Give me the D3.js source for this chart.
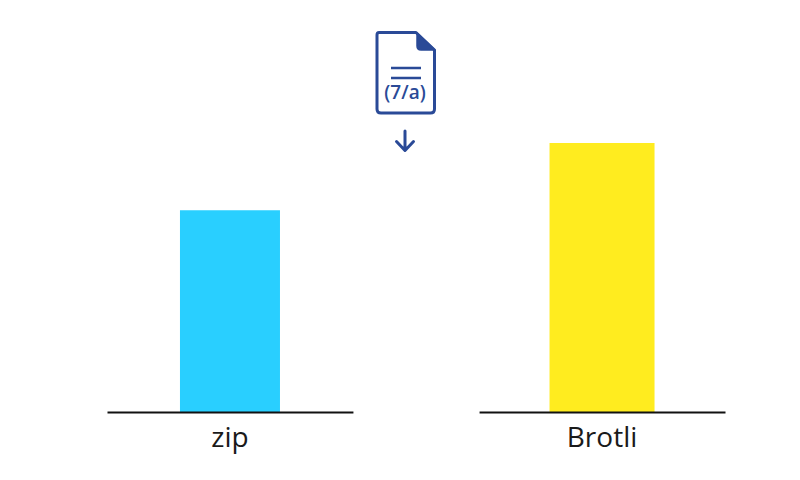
<!DOCTYPE html>
<html>
<head>
<meta charset="utf-8">
<script src="https://cdn.jsdelivr.net/npm/d3@7"></script>
<style>
  html, body { margin: 0; padding: 0; background: #fff; }
  svg { display: block; }
</style>
</head>
<body>
<div id="chart"></div>
<script>
// values, no scale is printed so they are relative
var categories = ["zip", "Brotli"];
var sizes = [75, 100];
var iconLabel = "(7/a)";

var width = 800, height = 480;
var baseline = 412, barTop = 143;

var svg = d3.select("#chart").append("svg")
  .attr("width", width)
  .attr("height", height);

var x = d3.scaleBand()
  .domain(categories)
  .range([107, 725])
  .paddingInner(0.339);

var y = d3.scaleLinear()
  .domain([0, 100])
  .range([baseline, barTop]);

var color = d3.scaleOrdinal()
  .domain(categories)
  .range(["#29cfff", "#ffec1f"]);

// the two bars are not quite the same width in the original
var barWidth = d3.scaleOrdinal()
  .domain(categories)
  .range([100, 105]);

svg.selectAll("rect.bar")
  .data(categories)
  .enter()
  .append("rect")
  .attr("class", "bar")
  .attr("x", function(d) { return x(d) + x.bandwidth() / 2 - barWidth(d) / 2; })
  .attr("y", function(d, i) { return y(sizes[i]); })
  .attr("width", function(d) { return barWidth(d); })
  .attr("height", function(d, i) { return y(0) - y(sizes[i]); })
  .attr("fill", function(d) { return color(d); });

// each bar sits on its own baseline
categories.forEach(function(c) {
  var axis = d3.axisBottom(d3.scaleBand().domain([c]).range([x(c), x(c) + x.bandwidth()]))
    .tickSize(0)
    .tickPadding(15);

  var g = svg.append("g")
    .attr("transform", "translate(0," + baseline + ")")
    .call(axis);

  g.select(".domain")
    .attr("stroke", "#111")
    .attr("stroke-width", 2);

  g.selectAll("text")
    .attr("font-family", "Open Sans")
    .attr("font-size", 28)
    .attr("fill", "#1a1a1a");
});

// file icon at the top
var icon = svg.append("g")
  .attr("fill", "none")
  .attr("stroke", "#2a4a97")
  .attr("stroke-linecap", "round")
  .attr("stroke-linejoin", "round");

icon.append("path")
  .attr("stroke-width", 3)
  .attr("d", "M379 32.5 H416 L434.5 50 V109 Q434.5 113 430.5 113 H381 Q377 113 377 109 V35 Q377 32.5 379 32.5 Z");

icon.append("path")
  .attr("fill", "#2a4a97")
  .attr("stroke-width", 1.5)
  .attr("d", "M417 33 L435 50 H421 Q417 50 417 46 Z");

icon.append("path")
  .attr("stroke-width", 2.4)
  .attr("stroke-linecap", "butt")
  .attr("d", "M391 68 H421 M391 78 H421");

svg.append("text")
  .attr("x", 405)
  .attr("y", 99)
  .attr("text-anchor", "middle")
  .attr("font-family", "Open Sans")
  .attr("font-weight", 600)
  .attr("font-size", 19)
  .attr("fill", "#2a4a97")
  .text(iconLabel);

icon.append("path")
  .attr("stroke-width", 3)
  .attr("d", "M405 131 V150 M396.5 141.5 L405 150.5 L413.5 141.5");
</script>
</body>
</html>
